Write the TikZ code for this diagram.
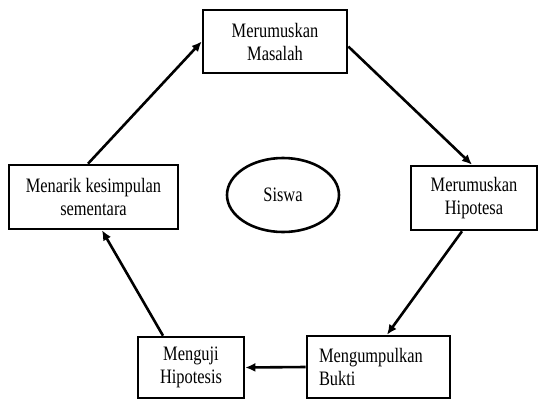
\documentclass[tikz,border=0pt]{standalone}
\usepackage{fontspec}
\setmainfont[FakeStretch=0.8]{Liberation Serif}
\usetikzlibrary{arrows.meta,shapes.geometric}
\begin{document}
\begin{tikzpicture}[x=1pt,y=-1pt,
  box/.style={draw,line width=2.6pt,rectangle,inner sep=0pt,align=center,
    font=\fontsize{20.5}{23}\selectfont},
  arr/.style={line width=2.6pt,-{Latex[length=10pt,width=9pt]}}]
\useasboundingbox (0,0) rectangle (539,400);
\node[box,minimum width=144pt,minimum height=63pt] (mas) at (275,41.5) {Merumuskan\\Masalah};
\node[box,minimum width=169pt,minimum height=64pt] (kes) at (93.5,197) {Menarik kesimpulan\\sementara};
\node[box,minimum width=126pt,minimum height=64pt] (hip) at (474,198) {Merumuskan\\Hipotesa};
\node[box,minimum width=106pt,minimum height=61pt] (uji) at (191,367.5) {Menguji\\Hipotesis};
\node[box,minimum width=143pt,minimum height=62pt,text width=119pt,align=left] (bukti) at (378.5,367) {Mengumpulkan\\Bukti};
\node[draw,ellipse,line width=2.6pt,inner sep=0pt,minimum width=112pt,minimum height=74pt,
  font=\fontsize{20.5}{23}\selectfont] (siswa) at (283,195) {Siswa};
\draw[arr] ([xshift=-5.5pt]kes.north) -- (mas.west);
\draw[arr] ([yshift=-5pt]mas.east) -- ([xshift=-2pt]hip.north);
\draw[arr] ([xshift=-12pt]hip.south) -- ([xshift=8.5pt]bukti.north);
\draw[arr] (bukti.west) -- (uji.east);
\draw[arr] ([xshift=-28pt]uji.north) -- ([xshift=8.5pt]kes.south);
\end{tikzpicture}
\end{document}
